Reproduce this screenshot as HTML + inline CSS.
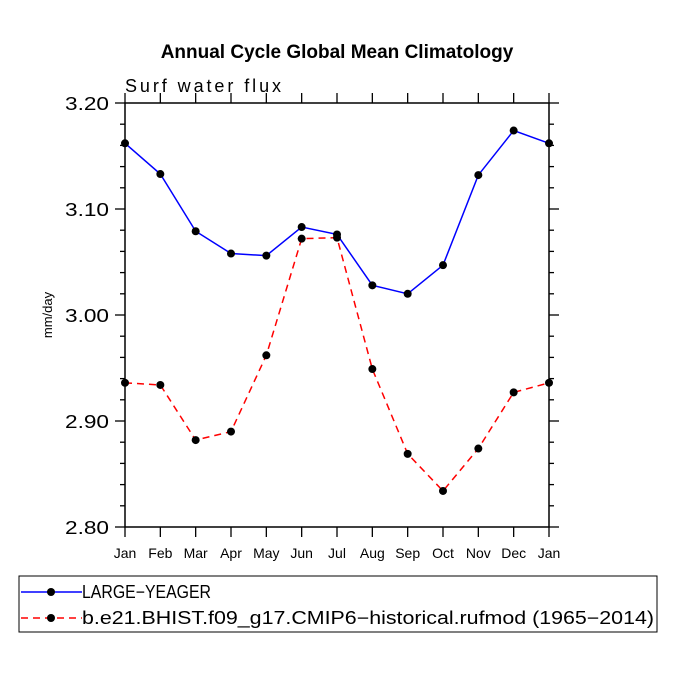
<!DOCTYPE html>
<html><head><meta charset="utf-8"><style>
body{margin:0;background:#fff}
svg text{font-family:"Liberation Sans",sans-serif}
</style></head><body>
<svg id="c" width="675" height="675" xmlns="http://www.w3.org/2000/svg">
<text x="337" y="58" text-anchor="middle" font-size="19" font-weight="bold">Annual Cycle Global Mean Climatology</text>
<text x="125" y="92" font-size="18" textLength="156" lengthAdjust="spacing">Surf water flux</text>
<text x="52" y="315" font-size="13" text-anchor="middle" transform="rotate(-90 52 315)">mm/day</text>
<g id="ax"></g>
<g id="series"></g>
<rect x="19" y="576" width="638" height="56" fill="none" stroke="#000" stroke-width="1"/>
<g>
<line x1="21" y1="592" x2="82" y2="592" stroke="#0000ff" stroke-width="1.5"/>
<circle cx="51" cy="592" r="4" fill="#000"/>
<text x="82" y="598" font-size="18" textLength="129" lengthAdjust="spacingAndGlyphs">LARGE−YEAGER</text></g>
<g>
<line x1="21" y1="618" x2="82" y2="618" stroke="#ff0000" stroke-width="1.5" stroke-dasharray="7,5"/>
<circle cx="51" cy="618" r="4" fill="#000"/>
<text x="82" y="624" font-size="18" textLength="572" lengthAdjust="spacingAndGlyphs">b.e21.BHIST.f09_g17.CMIP6−historical.rufmod (1965−2014)</text></g>
</svg>
<script>
const months=["Jan","Feb","Mar","Apr","May","Jun","Jul","Aug","Sep","Oct","Nov","Dec","Jan"];
const largeYeager=[3.162,3.133,3.079,3.058,3.056,3.083,3.076,3.028,3.020,3.047,3.132,3.174,3.162];
const bhist=[2.936,2.934,2.882,2.890,2.962,3.072,3.073,2.949,2.869,2.834,2.874,2.927,2.936];
const yTicks=[2.80,2.90,3.00,3.10,3.20];
const yTickLabels=["2.80","2.90","3.00","3.10","3.20"];
const X0=125,X1=549,Y0=527,Y1=103,ymin=2.8,ymax=3.2;
const xs=i=>X0+i*(X1-X0)/(months.length-1);
const ys=v=>Y0-(v-ymin)/(ymax-ymin)*(Y0-Y1);
const NS="http://www.w3.org/2000/svg";
function mk(t,a,p){const e=document.createElementNS(NS,t);for(const k in a)e.setAttribute(k,a[k]);p.appendChild(e);return e;}
const ax=document.getElementById('ax');
const fr=mk('rect',{x:X0,y:Y1,width:X1-X0,height:Y0-Y1,fill:'none',stroke:'#000','stroke-width':1.5},ax);


for(let v=2.8;v<=3.2001;v+=0.02){
  const major=Math.abs(Math.round(v*10)-v*10)<1e-6;const L=major?10:5;const y=ys(v);
  mk('line',{x1:X0-L,y1:y,x2:X0,y2:y,stroke:'#000','stroke-width':1.3},ax);
  mk('line',{x1:X1,y1:y,x2:X1+L,y2:y,stroke:'#000','stroke-width':1.3},ax);
}
yTicks.forEach((v,i)=>{const t=mk('text',{x:X0-16,y:ys(v)+7,'text-anchor':'end','font-size':18,textLength:44,lengthAdjust:'spacingAndGlyphs'},ax);t.textContent=yTickLabels[i];

});
months.forEach((m,i)=>{const x=xs(i);
  mk('line',{x1:x,y1:Y0,x2:x,y2:Y0+10,stroke:'#000','stroke-width':1.3},ax);
  mk('line',{x1:x,y1:Y1-10,x2:x,y2:Y1,stroke:'#000','stroke-width':1.3},ax);
  const t=mk('text',{x:x,y:Y0+31,'text-anchor':'middle','font-size':14},ax);t.textContent=m;
  
  });
const sg=document.getElementById('series');
function draw(data,color,dash,name){
  const g=mk('g',{},sg);
  
  
  const pts=data.map((v,i)=>xs(i)+','+ys(v)).join(' ');
  const a={points:pts,fill:'none',stroke:color,'stroke-width':1.5};if(dash)a['stroke-dasharray']=dash;
  mk('polyline',a,g);
  data.forEach((v,i)=>{const c=mk('circle',{cx:xs(i),cy:ys(v),r:4,fill:'#000'},g);
    
    });
}
draw(largeYeager,'#0000ff',null,'series-large-yeager');
draw(bhist,'#ff0000','7,5','series-bhist');
</script>
</body></html>
